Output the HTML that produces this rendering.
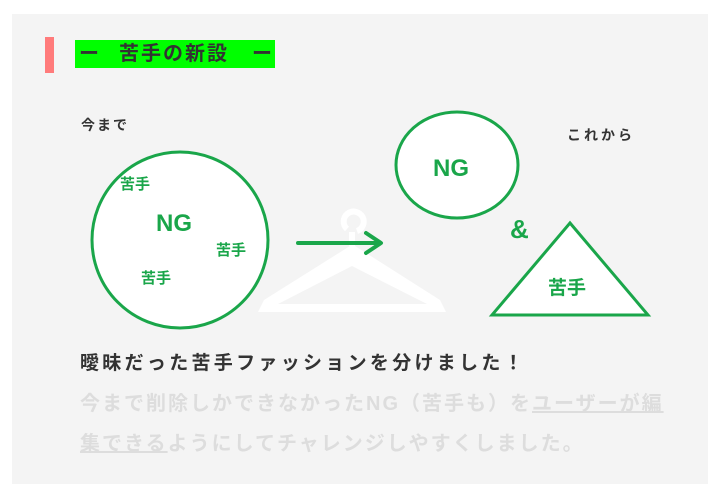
<!DOCTYPE html>
<html><head><meta charset="utf-8"><style>
body{margin:0;width:720px;height:498px;background:#fff;overflow:hidden;font-family:"Liberation Sans","Noto Sans CJK JP",sans-serif}
.t{position:absolute;white-space:nowrap}
</style></head><body>
<div style="position:absolute;left:12px;top:14px;width:696px;height:470px;background:#f4f4f4"></div>
<div style="position:absolute;left:45px;top:37px;width:9px;height:36px;background:#ff7b7b"></div>
<div class="t" style="left:75px;top:40px;width:200px;height:28px;background:#00ff00;font-size:20px;line-height:28px;color:#333;font-weight:bold"><span style="position:absolute;left:4px">ー</span><span style="position:absolute;left:44px;letter-spacing:2px">苦手の新設</span><span style="position:absolute;left:177px">ー</span></div>
<div class="t" style="left:81px;top:115px;font-size:14px;font-weight:bold;color:#333;letter-spacing:2px">今まで</div>
<div class="t" style="left:567px;top:125px;font-size:14px;font-weight:bold;color:#333;letter-spacing:3px">これから</div>
<svg style="position:absolute;left:0;top:0" width="720" height="498">
<g fill="none" stroke="#fff" stroke-width="6">
<path d="M357 231 A10 10 0 1 0 347 229"/>
<path d="M352 232 L352 246"/>
</g>
<path d="M258 312 L446 312 L440 300 L355 246 L350 246 L264 300 Z" fill="#fff"/>
<path d="M278 304 L352 266 L427 304 Z" fill="#f4f4f4"/>
<circle cx="180" cy="240" r="88" fill="#fff" stroke="#1aa64a" stroke-width="3"/>
<path d="M298 243 H380 M366 233 L381 243 L366 253" fill="none" stroke="#1aa64a" stroke-width="4" stroke-linecap="round" stroke-linejoin="round"/>
<ellipse cx="457" cy="165" rx="61" ry="53" fill="#fff" stroke="#1aa64a" stroke-width="3"/>
<path d="M570 223 L492 315 L648 315 Z" fill="#fff" stroke="#1aa64a" stroke-width="3" stroke-linejoin="miter"/>
<g fill="#1aa64a" font-weight="bold" font-family="Liberation Sans,Noto Sans CJK JP,sans-serif">
<text x="120" y="189" font-size="15">苦手</text>
<text x="156" y="231" font-size="24">NG</text>
<text x="216" y="255" font-size="15">苦手</text>
<text x="141" y="283" font-size="15">苦手</text>
<text x="433" y="176" font-size="24">NG</text>
<text x="510" y="238" font-size="26">&amp;</text>
<text x="548" y="294" font-size="19">苦手</text>
</g>
</svg>
<div class="t" style="left:80px;top:348px;font-size:19px;font-weight:bold;color:#333;letter-spacing:3.3px">曖昧だった苦手ファッションを分けました！</div>
<div class="t" style="left:80px;top:384px;font-size:20px;font-weight:bold;color:#ddd;line-height:40px;letter-spacing:2px">今まで削除しかできなかったNG（苦手も）を<u>ユーザーが編</u><br><u>集できる</u>ようにしてチャレンジしやすくしました。</div>
</body></html>
